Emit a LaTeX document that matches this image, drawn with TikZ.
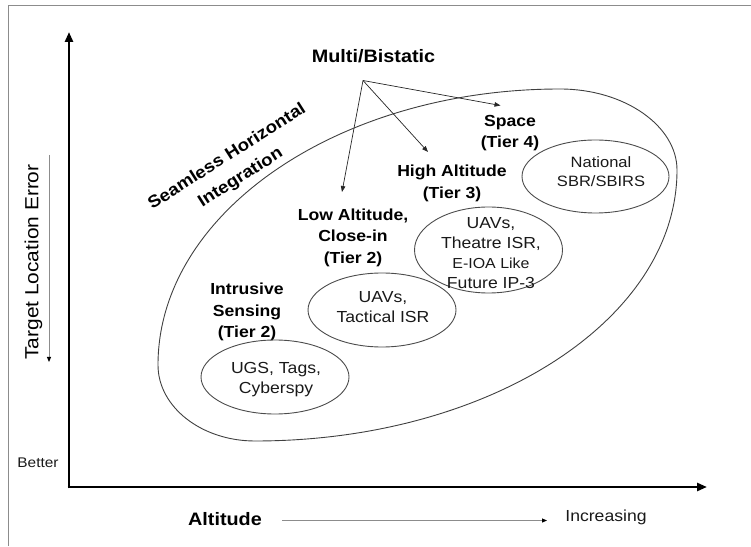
\documentclass[tikz,border=0pt]{standalone}
\usepackage{fontspec}
\setmainfont[FakeStretch=1.1]{Liberation Sans}
\usetikzlibrary{shapes.geometric,arrows.meta}
\begin{document}
\begin{tikzpicture}[x=1pt,y=1pt,
  tier/.style={font=\bfseries\fontsize{16}{21.5}\selectfont, align=center, inner sep=0pt, text=black},
  ringbox/.style={draw=black!70, line width=0.9pt, ellipse, inner sep=0pt},
  ringtext/.style={align=center, inner sep=0pt, font=\fontsize{16}{20}\selectfont, text=black!90},
  axisline/.style={line width=2.6pt, -{Triangle[length=10pt,width=8pt]}},
  thinarrow/.style={line width=0.7pt, draw=black!85, -{Triangle[length=6pt,width=4.5pt]}},
  grayarrow/.style={line width=1pt, draw=black!45, -{Triangle[length=5pt,width=4pt,fill=black,color=black]}}
]
\useasboundingbox (0,0) rectangle (751,546);
% frame
\draw[black!45, line width=1pt] (8,0) -- (8,540) -- (751,540);

% axes
\coordinate (o) at (69,59);
\coordinate (ytip) at (69,514);
\coordinate (xtip) at (707,59);
\draw[axisline] ([yshift=-1.3pt]o) -- (ytip);
\draw[axisline] ([xshift=-1.3pt]o) -- (xtip);

% axis labels
\node[font=\fontsize{14}{16}\selectfont, text=black!90] (better) at (38,83) {Better};
\node[rotate=90, font=\fontsize{19}{22}\selectfont, text=black] (tle) at (33.5,284) {Target Location Error};
\coordinate (tleA) at (49,391);
\coordinate (tleB) at (49,184);
\draw[grayarrow] (tleA) -- (tleB);

\node[font=\bfseries\fontsize{18}{20}\selectfont, text=black] (alt) at (225,27) {Altitude};
\node[font=\fontsize{16}{18}\selectfont, text=black!90] (inc) at (606,29) {Increasing};
\coordinate (aA) at (282,25.5);
\coordinate (aB) at (547,25.5);
\draw[grayarrow] (aA) -- (aB);

% big region (egg-shaped ellipse)
\coordinate (eL) at (158,181);
\coordinate (eT) at (560,457);
\coordinate (eR) at (677,376);
\coordinate (eB) at (255,105);
\draw[black!75, line width=0.9pt]
  (eL) .. controls (158,333) and (338,457) .. (eT)
       .. controls (624.6,457) and (677,420) .. (eR)
       .. controls (677,225.5) and (488,105) .. (eB)
       .. controls (201.5,105) and (158,139) .. (eL) -- cycle;

\node[font=\bfseries\fontsize{17}{25}\selectfont, align=center, rotate=32.5, text=black] (shi) at (234,378.5) {Seamless Horizontal\\Integration};

% multi/bistatic
\node[font=\bfseries\fontsize{18}{20}\selectfont, text=black] (mb) at (373.5,490) {Multi/Bistatic};
\coordinate (mbo) at (363,465.5);
\coordinate (tLow) at (342,354);
\coordinate (tHigh) at (428,394);
\coordinate (tSpace) at (500.5,440.5);
\draw[thinarrow] (mbo) -- (tLow);
\draw[thinarrow] (mbo) -- (tHigh);
\draw[thinarrow] (mbo) -- (tSpace);

% tier labels
\node[tier] (intr) at (247,234) {Intrusive\\Sensing\\(Tier 2)};
\node[tier] (low) at (353,308.5) {Low Altitude,\\Close-in\\(Tier 2)};
\node[tier] (high) at (452,362.5) {High Altitude\\(Tier 3)};
\node[tier] (space) at (510,413) {Space\\(Tier 4)};

% inner ellipses
\node[ringbox, minimum width=148pt, minimum height=74pt] (ugs) at (275,169) {};
\node[ringbox, minimum width=148pt, minimum height=74pt] (tac) at (382,236) {};
\node[ringbox, minimum width=148pt, minimum height=86pt] (thea) at (488.5,296) {};
\node[ringbox, minimum width=147pt, minimum height=73pt] (nat) at (595.5,369.5) {};

\node[ringtext] (ugst) at (276,166) {UGS, Tags,\\Cyberspy};
\node[ringtext] (tact) at (383,239) {UAVs,\\Tactical ISR};
\node[ringtext] (theat) at (491,293) {UAVs,\\Theatre ISR,\\\fontsize{14.5}{19}\selectfont E-IOA Like\\Future IP-3};
\node[ringtext, font=\fontsize{15}{19}\selectfont] (natt) at (601,374) {National\\SBR/SBIRS};
\end{tikzpicture}
\end{document}
